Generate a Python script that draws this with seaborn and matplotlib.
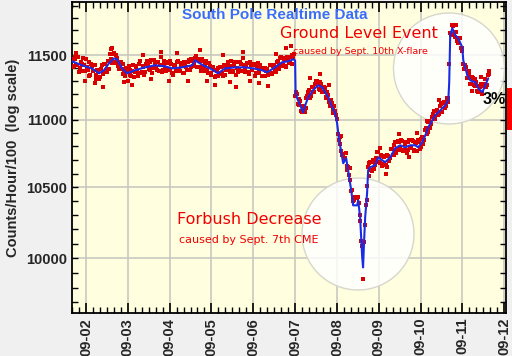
import matplotlib
matplotlib.use('Agg')
import matplotlib.pyplot as plt
import matplotlib.dates as mdates
import matplotlib.transforms as mtransforms
from matplotlib.patches import Ellipse, Rectangle
from matplotlib.ticker import NullFormatter
import numpy as np
import pandas as pd
import seaborn as sns

# hours since 2017-09-01 00:00 and counts/hour/100 for the smoothed (blue) trace
blue_hours = [16, 21.7, 27.4, 31.5, 34.3, 37.2, 40.1, 41.8, 44.7, 47.5, 52.1, 57.9, 63.6, 69.4,
              73.4, 79.1, 84.9, 86.6, 91.2, 95.2, 99.8, 103.8, 109.6, 115.3, 119.9, 125.1, 127.9,
              132.5, 136.5, 140.0, 142.9, 144.0, 144.3, 145.2, 146.9, 148.6, 149.8, 151.5, 154.3,
              157.2, 159.5, 161.2, 163.0, 165.3, 167.0, 168.1, 169.3, 171.0, 171.6, 173.3, 174.4,
              176.2, 177.3, 179.6, 180.2, 181.3, 181.9, 182.5, 183.0, 183.6, 184.2, 185.3, 185.9,
              187.1, 189.9, 191.7, 194.0, 195.7, 198.6, 201.4, 204.3, 207.2, 210.0, 212.9, 214.6,
              216.9, 218.7, 220.4, 222.7, 224.4, 227.3, 230.1, 231.9, 232.4, 233.0, 234.2, 235.9,
              237.6, 239.9, 240.5, 242.8, 244.5, 247.4, 249.1, 251.4, 253.1, 254.8]
blue_vals = [11453, 11421, 11397, 11358, 11382, 11437, 11476, 11468, 11397, 11358, 11382, 11405,
             11421, 11413, 11397, 11405, 11421, 11460, 11421, 11397, 11358, 11397, 11405, 11405,
             11397, 11382, 11366, 11405, 11445, 11453, 11468, 11460, 11204, 11165, 11111, 11057,
             11111, 11172, 11227, 11265, 11250, 11211, 11172, 11096, 11049, 10974, 10846, 10720,
             10676, 10713, 10624, 10479, 10371, 10371, 10407, 10286, 10145, 10006, 9937, 10124,
             10286, 10458, 10624, 10647, 10661, 10720, 10698, 10684, 10720, 10787, 10809, 10794,
             10809, 10809, 10794, 10831, 10883, 10944, 10997, 11035, 11072, 11111, 11149, 11281,
             11659, 11716, 11659, 11635, 11564, 11460, 11343, 11304, 11288, 11242, 11211, 11265,
             11319]

# raw readings (red dots): on the hour, hours 16..255
red_hour_vals = [
    11473, 11412, 11487, 11426, 11370, 11450, 11380, 11426, 11467, 11388, 11334, 11429, 11376, 11421, 11317, 11377, 11332, 11421, 11355, 11431, 11369, 11454, 11507, 11441,
    11520, 11442, 11480, 11390, 11445, 11352, 11368, 11399, 11296, 11386, 11341, 11421, 11366, 11410, 11339, 11453, 11372, 11411, 11365, 11458, 11391, 11444, 11357, 11460,
    11411, 11445, 11373, 11487, 11385, 11428, 11375, 11451, 11382, 11428, 11343, 11420, 11391, 11457, 11374, 11440, 11363, 11420, 11388, 11466, 11404, 11456, 11430, 11495,
    11411, 11458, 11379, 11452, 11401, 11455, 11364, 11413, 11360, 11407, 11328, 11374, 11335, 11410, 11360, 11425, 11347, 11419, 11390, 11452, 11368, 11420, 11345, 11445,
    11385, 11430, 11475, 11365, 11413, 11371, 11445, 11383, 11426, 11338, 11410, 11362, 11424, 11337, 11391, 11335, 11393, 11356, 11425, 11363, 11421, 11370, 11455, 11415,
    11485, 11421, 11478, 11416, 11468, 11438, 11503, 11476, 11180, 11197, 11114, 11140, 11060, 11095, 11090, 11180, 11225, 11185, 11255, 11213, 11296, 11279, 11230, 11278,
    11216, 11243, 11165, 11192, 11105, 11127, 11055, 11064, 11010, 10850, 10815, 10740, 10715, 10750, 10630, 10590, 10475, 10425, 10411, 10426, 10430, 10300, 10120, 9857,
    10230, 10410, 10645, 10687, 10617, 10688, 10660, 10760, 10685, 10730, 10658, 10725, 10665, 10740, 10695, 10785, 10735, 10808, 10755, 10838, 10789, 10850, 10770, 10815,
    10755, 10836, 10794, 10849, 10774, 10833, 10770, 10835, 10793, 10870, 10848, 10935, 10910, 10990, 10965, 11045, 11015, 11070, 11037, 11105, 11060, 11128, 11091, 11165,
    11135, 11679, 11741, 11670, 11685, 11617, 11640, 11560, 11555, 11390, 11405, 11320, 11355, 11275, 11325, 11260, 11290, 11210, 11255, 11195, 11260, 11317, 11270, 11355]
# raw readings on the half hour, hours 16.5..255.5
red_half_vals = [
    11410, 11474, 11424, 11483, 11402, 11432, 11478, 11379, 11405, 11446, 11346, 11415, 11421, 11346, 11382, 11317, 11391, 11365, 11433, 11385, 11454, 11390, 11469, 11508,
    11449, 11503, 11412, 11448, 11394, 11430, 11341, 11377, 11413, 11348, 11378, 11333, 11413, 11372, 11431, 11360, 11419, 11348, 11431, 11419, 11382, 11460, 11398, 11435,
    11385, 11444, 11422, 11366, 11454, 11391, 11438, 11394, 11455, 11358, 11414, 11375, 11446, 11388, 11424, 11361, 11444, 11406, 11444, 11387, 11470, 11415, 11477, 11410,
    11472, 11408, 11470, 11379, 11423, 11387, 11436, 11344, 11411, 11382, 11338, 11402, 11350, 11405, 11340, 11414, 11388, 11450, 11366, 11417, 11379, 11445, 11400, 11365,
    11450, 11375, 11420, 11384, 11442, 11355, 11424, 11387, 11429, 11361, 11438, 11370, 11403, 11339, 11403, 11374, 11347, 11425, 11354, 11417, 11395, 11450, 11395, 11475,
    11413, 11467, 11405, 11487, 11445, 11485, 11429, 11511, 11210, 11123, 11162, 11070, 11105, 11062, 11163, 11210, 11170, 11250, 11211, 11275, 11302, 11237, 11291, 11215,
    11255, 11176, 11216, 11133, 11148, 11073, 11102, 11040, 10895, 10870, 10770, 10745, 10718, 10653, 10645, 10555, 10480, 10405, 10431, 10425, 10390, 10260, 10088, 10110,
    10370, 10510, 10675, 10625, 10700, 10635, 10715, 10762, 10680, 10736, 10674, 10730, 10650, 10733, 10713, 10782, 10734, 10834, 10774, 10836, 10772, 10842, 10777, 10832,
    10773, 10847, 10789, 10844, 10763, 10829, 10850, 10784, 10859, 10819, 10924, 10897, 10982, 10942, 11022, 11065, 11010, 11078, 11043, 11117, 11061, 11139, 11105, 11170,
    11430, 11660, 11735, 11647, 11688, 11600, 11640, 11535, 11435, 11425, 11320, 11373, 11278, 11333, 11267, 11310, 11218, 11263, 11277, 11202, 11276, 11253, 11348, 11375]
# scattered readings well off the trend
stray_hours = [18.2, 23.7, 29.3, 33.6, 38.4, 39.2, 45.8, 50.3, 56.6, 61.2, 66.8, 71.5, 76.3, 82.7,
               89.6, 93.2, 97.8, 102.4, 106.7, 110.1, 113.9, 118.3, 123.4, 128.6, 133.2, 138.7,
               141.4, 152.7, 158.2, 163.6, 170.4, 175.4, 186.6, 192.6, 196.4, 203.6, 209.4, 214.2,
               219.6, 226.3, 236.4, 245.6, 250.7]
stray_vals = [11520, 11300, 11280, 11250, 11550, 11560, 11290, 11270, 11500, 11310, 11530, 11300,
              11520, 11300, 11540, 11300, 11270, 11500, 11290, 11250, 11530, 11300, 11280, 11260,
              11510, 11560, 11570, 11320, 11350, 11270, 10880, 10640, 10580, 10790, 10600, 10890,
              10720, 10900, 10990, 11150, 11740, 11220, 11330]

y_ticks = [10000, 10500, 11000, 11500]
day_labels = ['09-02', '09-03', '09-04', '09-05', '09-06', '09-07', '09-08', '09-09', '09-10', '09-11', '09-12']

start = pd.Timestamp('2017-09-01')
hours_on = np.arange(16, 16 + len(red_hour_vals))
red_hours = list(hours_on) + list(hours_on + 0.5) + stray_hours
red_vals = red_hour_vals + red_half_vals + stray_vals
red_df = pd.DataFrame({'time': start + pd.to_timedelta(red_hours, unit='h'), 'counts': red_vals})
blue_df = pd.DataFrame({'time': start + pd.to_timedelta(blue_hours, unit='h'), 'counts': blue_vals})

sns.set_style('ticks')
plt.rcParams['font.family'] = ['Liberation Sans', 'DejaVu Sans']

fig = plt.figure(figsize=(5.12, 3.56), dpi=100, facecolor='#f0f0f0')
L, R, B, T = 72, 506, 313, 2
ax = fig.add_axes([L / 512, (356 - B) / 356, (R - L) / 512, (B - T) / 356])
ax.set_facecolor('#ffffe0')

def px(x, y):
    return ((x - L) / (R - L), (B - y) / (B - T))

# highlight circles
for (cx, cy, r) in [(358, 234, 56), (449, 68.5, 55.5)]:
    ax.add_patch(Ellipse(px(cx, cy), 2 * r / (R - L), 2 * r / (B - T), transform=ax.transAxes,
                         fc=(1, 1, 1, 0.82), ec='#d6d6cc', lw=1.0, zorder=1.5))

sns.scatterplot(data=red_df, x='time', y='counts', color='#d80000', marker='s', s=6,
                linewidth=0, ax=ax, zorder=3)
sns.lineplot(data=blue_df, x='time', y='counts', color='#1a2be6', lw=1.5, ax=ax, zorder=4)

ax.set_yscale('log')
ax.set_ylim(9630, 11930)
ax.set_xlim(start + pd.Timedelta(hours=16), pd.Timestamp('2017-09-12 01:00'))
ax.set_yticks(y_ticks, [str(v) for v in y_ticks])
ax.set_yticks(range(9700, 11901, 100), minor=True)
ax.yaxis.set_minor_formatter(NullFormatter())
day_pos = [pd.Timestamp('2017-' + d) for d in day_labels]
ax.set_xticks(day_pos, day_labels)
ax.xaxis.set_minor_locator(mdates.HourLocator(byhour=[4, 8, 12, 16, 20]))

ax.grid(True, which='major', color='#c8c8c0', lw=1.2)
ax.set_axisbelow(True)
ax.tick_params(which='both', direction='in', top=True, right=True, color='black')
ax.tick_params(axis='x', which='major', length=7, width=1.2)
ax.tick_params(axis='x', which='minor', length=4, width=1.0)
ax.tick_params(axis='y', which='both', length=4, width=1.0)
for s in ax.spines.values():
    s.set_linewidth(1.3)
    s.set_color('black')
for lab in ax.get_xticklabels():
    lab.set_rotation(90)
    lab.set_fontweight('bold')
    lab.set_fontsize(10.5)
for lab in ax.get_yticklabels():
    lab.set_fontweight('bold')
    lab.set_fontsize(10.5)

ax.set_xlabel('')
ax.set_ylabel('Counts/Hour/100  (log scale)', fontsize=10.5, fontweight='bold')
ax.yaxis.set_label_coords((20 - L) / (R - L), 0.5)

ax.text(*px(275, 15), 'South Pole Realtime Data', transform=ax.transAxes, ha='center', va='center',
        color='#3a6cff', fontsize=11, fontweight='bold', zorder=6)
red = '#f00000'
ax.text(*px(359, 33), 'Ground Level Event', transform=ax.transAxes, ha='center', va='center',
        color=red, fontsize=11.5, family='DejaVu Sans', zorder=6)
ax.text(*px(360, 52), 'caused by Sept. 10th X-flare', transform=ax.transAxes, ha='center', va='center',
        color=red, fontsize=6.8, family='DejaVu Sans', zorder=6)
ax.text(*px(249, 220), 'Forbush Decrease', transform=ax.transAxes, ha='center', va='center',
        color=red, fontsize=11.5, family='DejaVu Sans', zorder=6)
ax.text(*px(249, 240), 'caused by Sept. 7th CME', transform=ax.transAxes, ha='center', va='center',
        color=red, fontsize=8, family='DejaVu Sans', zorder=6)
ax.text(*px(494, 99), '3%', transform=ax.transAxes, ha='center', va='center', color='black',
        fontsize=11.5, fontweight='bold', clip_on=False, zorder=6)

# 3% scale bar at the right edge
blend = mtransforms.blended_transform_factory(ax.transAxes, ax.transData)
ax.add_patch(Rectangle(((507 - L) / (R - L), 10920), 5 / (R - L), 10920 * 0.03, transform=blend,
                       fc='#ff0000', ec='none', clip_on=False, zorder=6))

fig.savefig('out.png', dpi=100, facecolor=fig.get_facecolor())
